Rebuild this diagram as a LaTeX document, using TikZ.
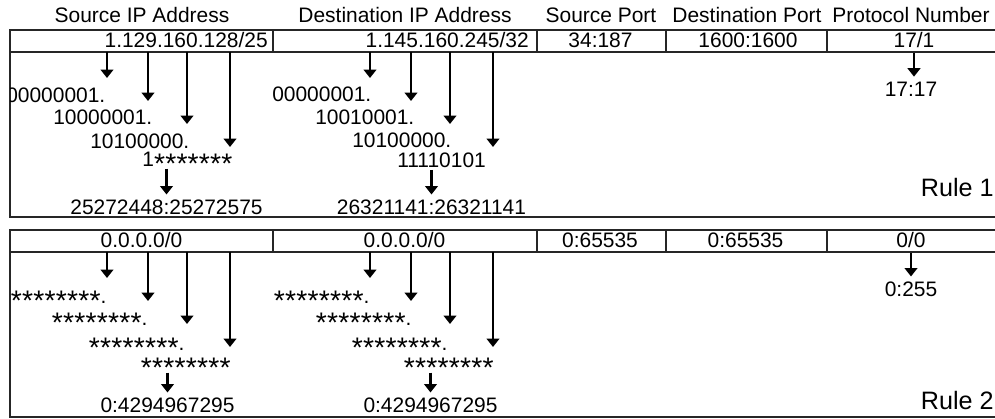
\documentclass[tikz,border=0pt]{standalone}
\usepackage{graphicx}
\usepackage{fontspec}
\setmainfont{Liberation Sans}
\usetikzlibrary{arrows.meta}

\newcommand{\bitstar}{\makebox[0.536em]{\raisebox{-0.3em}[0.7em][0pt]{\scalebox{1.35}{*}}}}
\newcommand{\starbyte}{\bitstar\bitstar\bitstar\bitstar\bitstar\bitstar\bitstar\bitstar}

\begin{document}
\begin{tikzpicture}[
    x=0.025cm, y=-0.025cm,
    txt/.style={inner sep=0pt, font=\fontsize{14.9}{17}\selectfont},
    rulelabel/.style={inner sep=0pt, font=\fontsize{17.9}{20}\selectfont},
    frame/.style={line width=1.4pt, black!85},
    arrow/.style={-{Triangle[width=9pt, length=6pt]}, line width=2pt},
    conv/.style={arrow, shorten <=1pt, shorten >=4pt},
]
\useasboundingbox (0,0) rectangle (995,419);

% field names
\node[txt, anchor=base] (hsrcip) at (142,23) {Source IP Address};
\node[txt, anchor=base] (hdstip) at (405,23) {Destination IP Address};
\node[txt, anchor=base] (hsrcport) at (601,23) {Source Port};
\node[txt, anchor=base] (hdstport) at (747,23) {Destination Port};
\node[txt, anchor=base] (hproto) at (911,23) {Protocol Number};

% rule tables
\draw[frame] (995,30) -- (10,30) -- (10,217) -- (995,217);
\draw[frame] (10,52) -- (995,52);
\draw[frame] (273,30) -- (273,52) (537,30) -- (537,52) (666,30) -- (666,52) (827,30) -- (827,52);
\draw[frame] (995,230) -- (10,230) -- (10,417) -- (995,417);
\draw[frame] (10,252) -- (995,252);
\draw[frame] (273,230) -- (273,252) (537,230) -- (537,252) (666,230) -- (666,252) (827,230) -- (827,252);

% rule 1 fields
\node[txt, anchor=base east] (r1sval) at (268,48) {1.129.160.128/25};
\node[txt, anchor=base east] (r1dval) at (529,48) {1.145.160.245/32};
\node[txt, anchor=base] (r1spval) at (600.5,48) {34:187};
\node[txt, anchor=base] (r1dpval) at (748,48) {1600:1600};
\node[txt, anchor=base] (r1pval) at (914,48) {17/1};

% rule 2 fields
\node[txt, anchor=base] (r2sval) at (141.5,248) {0.0.0.0/0};
\node[txt, anchor=base] (r2dval) at (404.5,248) {0.0.0.0/0};
\node[txt, anchor=base] (r2spval) at (600,248) {0:65535};
\node[txt, anchor=base] (r2dpval) at (745.5,248) {0:65535};
\node[txt, anchor=base] (r2pval) at (911,248) {0/0};

% octets, cut at the left border
\begin{scope}
\clip (10,0) rectangle (995,419);
\node[txt, anchor=base west] (r1sa) at (6,103) {00000001.};
\node[txt, anchor=base west] (r2sa) at (10.5,304) {\starbyte.};
\end{scope}
\node[txt, anchor=base west] (r1sb) at (53,125) {10000001.};
\node[txt, anchor=base west] (r1sc) at (90,149) {10100000.};
\node[txt, anchor=base west] (r1sd) at (142,167) {1\bitstar\bitstar\bitstar\bitstar\bitstar\bitstar\bitstar};
\node[txt, anchor=base west] (r1da) at (272,102) {00000001.};
\node[txt, anchor=base west] (r1db) at (315,125) {10010001.};
\node[txt, anchor=base west] (r1dc) at (352,148) {10100000.};
\node[txt, anchor=base west] (r1dd) at (397,168) {11110101};

\node[txt, anchor=base west] (r2sb) at (51.5,326) {\starbyte.};
\node[txt, anchor=base west] (r2sc) at (88.5,351) {\starbyte.};
\node[txt, anchor=base west] (r2sd) at (140.5,371) {\starbyte};
\node[txt, anchor=base west] (r2da) at (273.5,304) {\starbyte.};
\node[txt, anchor=base west] (r2db) at (315.5,326) {\starbyte.};
\node[txt, anchor=base west] (r2dc) at (351.5,351) {\starbyte.};
\node[txt, anchor=base west] (r2dd) at (403.5,371) {\starbyte};

% ranges
\node[txt, anchor=base] (r1srange) at (166.5,215) {25272448:25272575};
\node[txt, anchor=base] (r1drange) at (431.5,215) {26321141:26321141};
\node[txt, anchor=base] (r1prange) at (911,97) {17:17};
\node[txt, anchor=base] (r2srange) at (167.5,413) {0:4294967295};
\node[txt, anchor=base] (r2drange) at (430.5,413) {0:4294967295};
\node[txt, anchor=base] (r2prange) at (911,297) {0:255};

\node[rulelabel, anchor=base east] (rule1) at (994,197) {Rule 1};
\node[rulelabel, anchor=base east] (rule2) at (994,410) {Rule 2};

% split each address into octets
\foreach \r/\y in {1/52,2/252} {
  \foreach \f/\dx in {s/0,d/263} {
    \foreach \x/\len [count=\i] in {107/26,148/49,187/72,230/95} {
      \coordinate (r\r\f-o\i) at (\x+\dx,\y);
      \coordinate (r\r\f-t\i) at (\x+\dx,\y+\len);
      \draw[arrow] (r\r\f-o\i) -- (r\r\f-t\i);
    }
  }
}

\draw[conv] (r1srange.north |- r1sd.south) -- (r1srange.north);
\draw[conv] (r1drange.north |- r1dd.south) -- (r1drange.north);
\draw[conv] (r2srange.north |- r2sd.south) -- (r2srange.north);
\draw[conv] (r2drange.north |- r2dd.south) -- (r2drange.north);
\draw[conv, shorten <=3pt] (r1pval.south) -- (r1pval.south |- r1prange.north);
\draw[conv, shorten <=3pt] (r2pval.south) -- (r2pval.south |- r2prange.north);

\end{tikzpicture}
\end{document}
